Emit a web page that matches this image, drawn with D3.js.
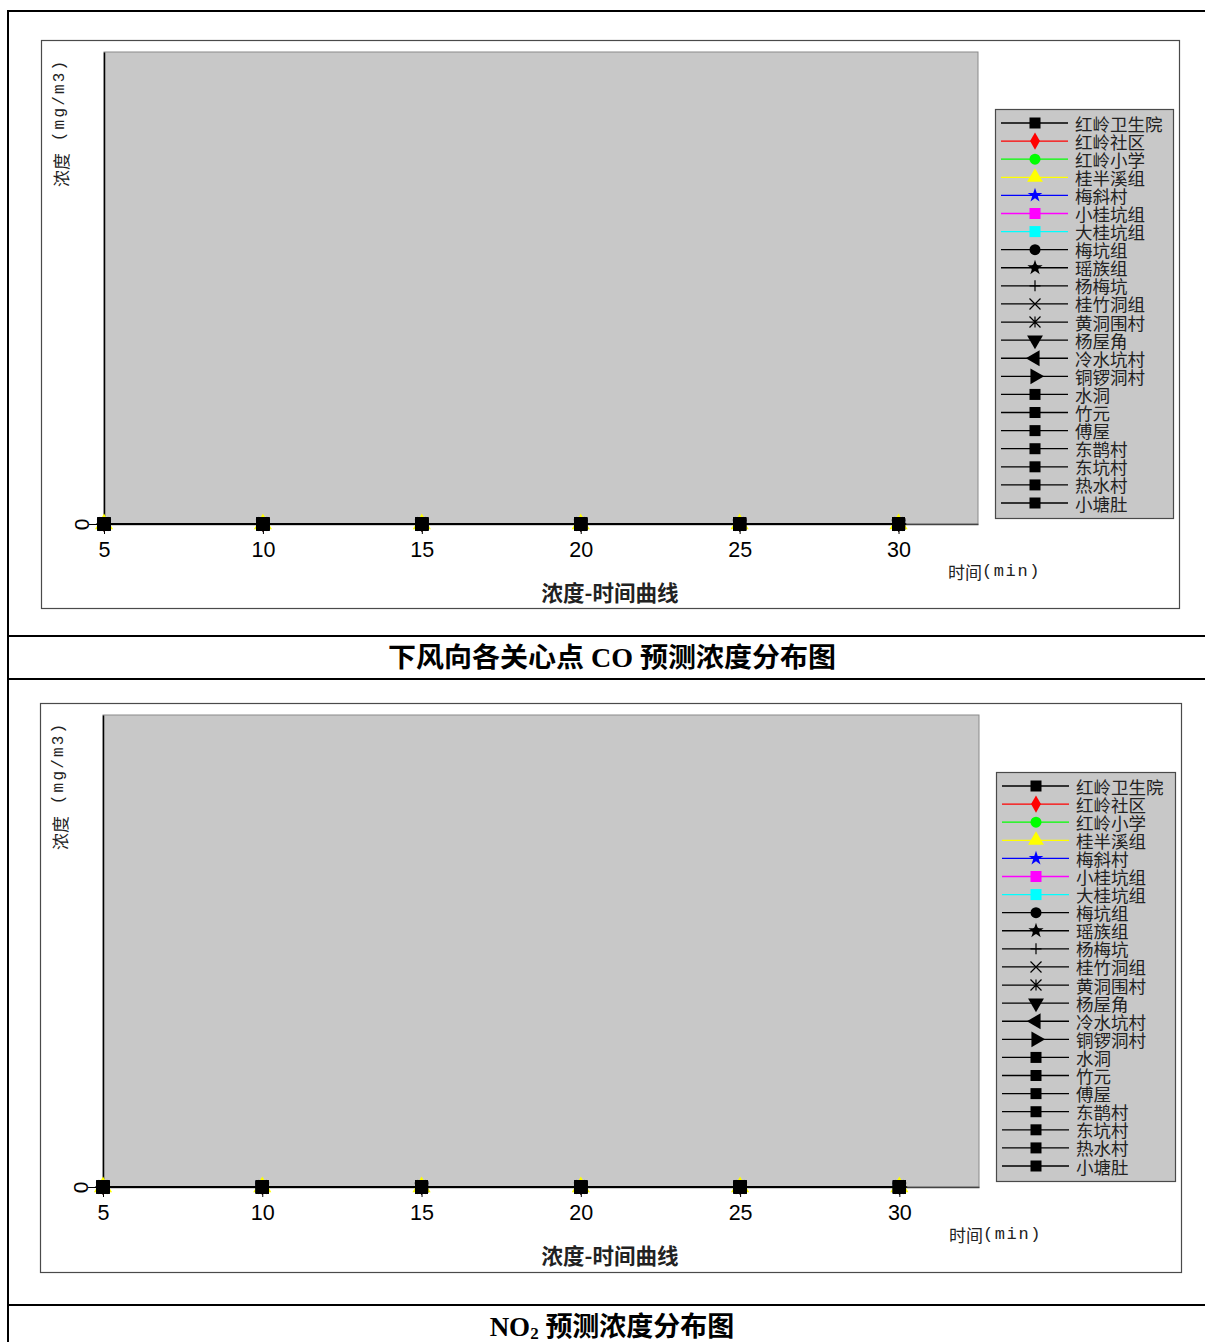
<!DOCTYPE html>
<html>
<head>
<meta charset="utf-8">
<script src="https://cdn.jsdelivr.net/npm/d3@7"></script>
<style>
html,body{margin:0;padding:0;background:#fff;}
svg{display:block;}
</style>
</head>
<body>
<svg id="root" width="1205" height="1342"></svg>
<script>
// ---------------- data ----------------
const times = [5, 10, 15, 20, 25, 30];
const xTicks = [5, 10, 15, 20, 25, 30];
const yTicks = [0];
const stations = ["红岭卫生院","红岭社区","红岭小学","桂半溪组","梅斜村","小桂坑组","大桂坑组","梅坑组","瑶族组","杨梅坑","桂竹洞组","黄洞围村","杨屋角","冷水坑村","铜锣洞村","水洞","竹元","傅屋","东鹊村","东坑村","热水村","小塘肚"];
const seriesColors = ["#000000","#ff0000","#00ff00","#ffff00","#0000ff","#ff00ff","#00ffff","#000000","#000000","#000000","#000000","#000000","#000000","#000000","#000000","#000000","#000000","#000000","#000000","#000000","#000000","#000000"];
const markerTypes = ["square","diamond","circle","triangle","star","square","square","circle","burst","plus","cross","asterisk","triangleDown","triangleLeft","triangleRight","square","square","square","square","square","square","square"];
const coSeries = [
  [0,0,0,0,0,0],[0,0,0,0,0,0],[0,0,0,0,0,0],[0,0,0,0,0,0],[0,0,0,0,0,0],[0,0,0,0,0,0],
  [0,0,0,0,0,0],[0,0,0,0,0,0],[0,0,0,0,0,0],[0,0,0,0,0,0],[0,0,0,0,0,0],[0,0,0,0,0,0],
  [0,0,0,0,0,0],[0,0,0,0,0,0],[0,0,0,0,0,0],[0,0,0,0,0,0],[0,0,0,0,0,0],[0,0,0,0,0,0],
  [0,0,0,0,0,0],[0,0,0,0,0,0],[0,0,0,0,0,0],[0,0,0,0,0,0]
];
const no2Series = [
  [0,0,0,0,0,0],[0,0,0,0,0,0],[0,0,0,0,0,0],[0,0,0,0,0,0],[0,0,0,0,0,0],[0,0,0,0,0,0],
  [0,0,0,0,0,0],[0,0,0,0,0,0],[0,0,0,0,0,0],[0,0,0,0,0,0],[0,0,0,0,0,0],[0,0,0,0,0,0],
  [0,0,0,0,0,0],[0,0,0,0,0,0],[0,0,0,0,0,0],[0,0,0,0,0,0],[0,0,0,0,0,0],[0,0,0,0,0,0],
  [0,0,0,0,0,0],[0,0,0,0,0,0],[0,0,0,0,0,0],[0,0,0,0,0,0]
];
const xDomain = [5, 32.5];
const yDomain = [0, 1];
const yLabelCJK = "浓度";
const yLabelUnit = " (mg/m3)";
const xLabelCJK = "时间";
const xLabelUnit = "(min)";
const chartTitle = "浓度-时间曲线";

// ---------------- layout ----------------
const svg = d3.select("#root");
const CJK = "'Noto Sans CJK SC','Noto Sans',sans-serif";
const MONO = "'Liberation Mono','DejaVu Sans Mono',monospace";
const SERIF = "'Liberation Serif','Noto Sans CJK SC',serif";
const BG = "#c8c8c8";

// outer table lines
const tbl = svg.append("g").attr("stroke","#000").attr("stroke-width",2);
tbl.append("line").attr("x1",8).attr("x2",8).attr("y1",10).attr("y2",1342);
[11, 636, 679, 1305].forEach(y => tbl.append("line").attr("x1",7).attr("x2",1205).attr("y1",y).attr("y2",y));

function markerPath(type, s) {
  switch (type) {
    case "square": return d3.symbol(d3.symbolSquare, (2*s)*(2*s))();
    case "diamond": return d3.symbol(d3.symbolDiamond, 2.8*s*s)();
    case "circle": return d3.symbol(d3.symbolCircle, Math.PI*s*s)();
    case "triangle":
    case "triangleDown":
    case "triangleLeft":
    case "triangleRight": return d3.symbol(d3.symbolTriangle, 3.6*s*s)();
    case "star": return d3.symbol(d3.symbolStar, 2.2*s*s)();
    case "burst": return d3.symbol(d3.symbolStar, 2.4*s*s)();
    case "plus": return `M0,${-s}V${s}M${-s},0H${s}`;
    case "cross": return `M${-s},${-s}L${s},${s}M${-s},${s}L${s},${-s}`;
    case "asterisk": return `M${-s},${-s}L${s},${s}M${-s},${s}L${s},${-s}M0,${-s}V${s}`;
  }
}
function drawMarker(g, type, color, x, y, s) {
  const stroked = (type === "plus" || type === "cross" || type === "asterisk");
  let rot = 0;
  if (type === "triangleDown") rot = 180;
  if (type === "triangleLeft") rot = -90;
  if (type === "triangleRight") rot = 90;
  const p = g.append("path")
    .attr("d", markerPath(type, s))
    .attr("transform", `translate(${x},${y}) rotate(${rot})`);
  if (stroked) p.attr("fill","none").attr("stroke",color).attr("stroke-width",1.2);
  else p.attr("fill",color);
  if (type === "burst") {
    g.append("circle").attr("cx",x).attr("cy",y).attr("r",s*0.65).attr("fill",color);
  }
}

function drawChart(cfg, seriesValues, caption) {
  const g = svg.append("g");
  g.append("rect").attr("x",cfg.frame[0]+0.5).attr("y",cfg.frame[1]+0.5)
    .attr("width",cfg.frame[2]-cfg.frame[0]).attr("height",cfg.frame[3]-cfg.frame[1])
    .attr("fill","#fff").attr("stroke","#4a4a4a").attr("stroke-width",1.2);
  const [px0, py0, px1, py1] = cfg.plot;
  g.append("rect").attr("x",px0).attr("y",py0).attr("width",px1-px0).attr("height",py1-py0)
    .attr("fill",BG).attr("stroke","#8a8a8a").attr("stroke-width",1);

  const x = d3.scaleLinear().domain(xDomain).range([px0, px1]);
  const y = d3.scaleLinear().domain(yDomain).range([py1, py0]);

  // x axis
  const xa = g.append("g").attr("transform",`translate(0,${py1})`)
    .call(d3.axisBottom(x).tickValues(xTicks).tickSize(10).tickSizeOuter(0).tickFormat(d3.format("d")));
  xa.select(".domain").attr("stroke","#444").attr("stroke-width",1.5);
  xa.selectAll(".tick line").attr("stroke","#000");
  xa.selectAll(".tick text").attr("font-family","'Liberation Sans',Arial,sans-serif").attr("font-size",21.5)
    .attr("fill","#000").attr("dy",null).attr("y",26).attr("dominant-baseline","central");

  // y axis
  const ya = g.append("g").attr("transform",`translate(${px0},0)`)
    .call(d3.axisLeft(y).tickValues(yTicks).tickSize(15).tickSizeOuter(0).tickFormat(d3.format("d")));
  ya.select(".domain").attr("stroke","#000").attr("stroke-width",1.5);
  ya.selectAll(".tick line").attr("stroke","#000");
  ya.selectAll(".tick text").attr("font-family","'Liberation Sans',Arial,sans-serif").attr("font-size",21).attr("fill","#000")
    .attr("x",null).attr("dy",null).attr("text-anchor","middle").attr("dominant-baseline","central")
    .attr("transform","translate(-23,0) rotate(-90)");

  // series lines and markers
  const line = d3.line().x((d,i)=>x(times[i])).y(d=>y(d));
  seriesValues.forEach((vals, si) => {
    g.append("path").datum(vals).attr("d",line).attr("fill","none")
      .attr("stroke",seriesColors[si]).attr("stroke-width",1.5);
  });
  seriesValues.forEach((vals, si) => {
    const mg = g.append("g");
    const t = markerTypes[si];
    const s = t === "square" ? 6.5 : (t === "triangle" ? 6.3 : 5);
    vals.forEach((v,i) => drawMarker(mg, t, seriesColors[si], x(times[i]), y(v), s));
  });

  // labels
  const yl = g.append("text").attr("transform",`translate(${cfg.ylab[0]},${cfg.ylab[1]}) rotate(-90)`)
    .attr("font-family",CJK).attr("font-size",17).attr("fill","#222")
    .attr("dominant-baseline","central");
  yl.append("tspan").text(yLabelCJK);
  yl.append("tspan").attr("font-family",MONO).attr("font-size",16).attr("letter-spacing",2.2).text(yLabelUnit);
  const xl = g.append("text").attr("x",cfg.xlab[0]).attr("y",cfg.xlab[1])
    .attr("font-family",CJK).attr("font-size",17).attr("fill","#222")
    .attr("dominant-baseline","central");
  xl.append("tspan").text(xLabelCJK);
  xl.append("tspan").attr("font-family",MONO).attr("font-size",17).attr("letter-spacing",1.6).text(xLabelUnit);
  g.append("text").attr("x",cfg.title[0]).attr("y",cfg.title[1])
    .attr("font-family",CJK).attr("font-size",21.5).attr("font-weight","bold").attr("fill","#222")
    .attr("text-anchor","middle").attr("dominant-baseline","central").text(chartTitle);

  // legend
  const [lx0, ly0, lx1, ly1] = cfg.legend;
  g.append("rect").attr("x",lx0+0.5).attr("y",ly0+0.5).attr("width",lx1-lx0).attr("height",ly1-ly0)
    .attr("fill",BG).attr("stroke","#4a4a4a").attr("stroke-width",1.2);
  const rowY = d3.scaleLinear().domain([0, stations.length-1]).range([ly0+14, ly1-15]);
  stations.forEach((name, i) => {
    const yy = rowY(i);
    g.append("line").attr("x1",lx0+6).attr("x2",lx0+73).attr("y1",yy).attr("y2",yy)
      .attr("stroke",seriesColors[i]).attr("stroke-width",1.3);
    drawMarker(g, markerTypes[i], seriesColors[i], lx0+40, yy, 5.5);
    g.append("text").attr("x",lx0+80).attr("y",yy).attr("dominant-baseline","central")
      .attr("font-family",CJK).attr("font-size",17.5).attr("fill","#222").text(name);
  });

  caption(cfg.caption[0], cfg.caption[1]);
}

drawChart({
  frame:[41,40,1179,608], plot:[104,52,978,524], legend:[995,109,1173,518],
  ylab:[60,187], xlab:[948,571], title:[610,591], caption:[612,658]
}, coSeries, (cx, cy) => {
  svg.append("text").attr("x",cx).attr("y",cy).attr("text-anchor","middle").attr("dominant-baseline","central")
    .attr("font-family",SERIF).attr("font-size",27).attr("font-weight","bold").attr("fill","#000")
    .attr("textLength",448).attr("lengthAdjust","spacingAndGlyphs")
    .text("下风向各关心点 CO 预测浓度分布图");
});

drawChart({
  frame:[40,703,1181,1272], plot:[103,715,979,1187], legend:[996,772,1175,1181],
  ylab:[59,850], xlab:[949,1234], title:[610,1254], caption:[612,1327]
}, no2Series, (cx, cy) => {
  const t = svg.append("text").attr("x",cx).attr("y",cy).attr("text-anchor","middle").attr("dominant-baseline","central")
    .attr("font-family",SERIF).attr("font-size",27).attr("font-weight","bold").attr("fill","#000");
  t.append("tspan").text("NO");
  t.append("tspan").attr("font-size",17).attr("dy",6).text("2");
  t.append("tspan").attr("dy",-6).text(" 预测浓度分布图");
});
</script>
</body>
</html>
